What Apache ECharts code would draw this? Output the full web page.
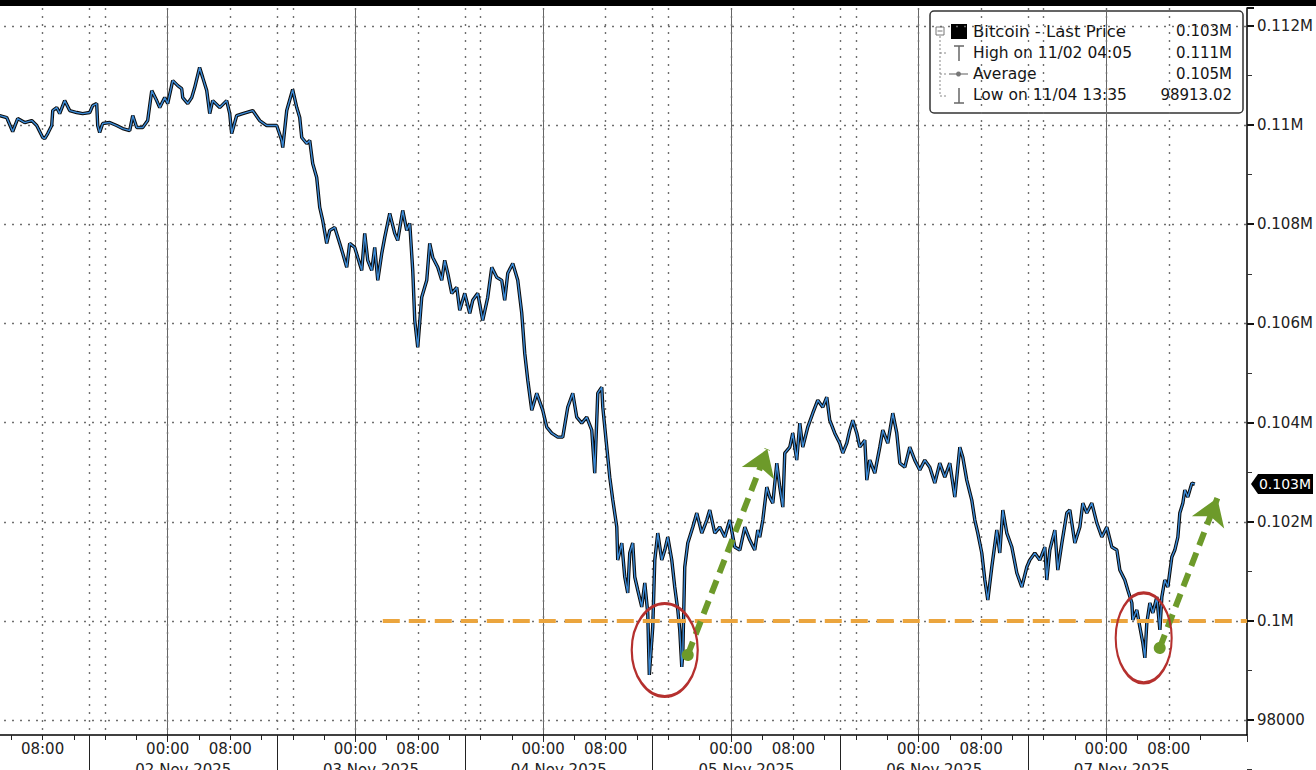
<!DOCTYPE html>
<html><head><meta charset="utf-8">
<script src="https://cdn.jsdelivr.net/npm/echarts@6/dist/echarts.min.js"></script>
<style>html,body{margin:0;padding:0;background:#fff;}#c{width:1316px;height:770px;}</style>
</head><body><div id="c"></div>
<script>
// ---- data (hours relative to 00:00 02 Nov 2025, price in USD) ----
const hours = [-21.48,-20.59,-19.82,-19.18,-18.28,-17.39,-16.75,-15.98,-15.73,-15.34,-14.83,-14.70,-14.19,-13.81,-13.17,-12.53,-11.63,-10.87,-9.97,-9.59,-9.08,-8.95,-8.70,-8.31,-7.42,-6.52,-5.75,-4.86,-4.47,-3.96,-3.20,-2.56,-2.04,-1.41,-1.02,-0.38,0.00,0.64,1.28,1.79,1.92,2.56,3.07,3.45,4.08,4.48,4.99,5.37,5.75,6.65,7.54,7.93,8.18,8.82,9.59,10.87,11.76,12.66,13.94,14.58,14.71,15.22,15.98,16.50,16.88,17.14,17.77,18.16,18.54,19.05,19.44,19.82,20.33,20.72,21.36,22.00,22.38,22.89,23.27,23.91,24.30,24.81,25.19,25.58,26.09,26.47,26.86,27.37,27.75,28.39,29.03,29.41,30.05,30.56,30.95,31.33,31.59,31.97,32.48,33.12,33.50,33.89,34.53,35.04,35.42,35.81,36.32,36.96,37.34,37.98,38.62,39.00,39.64,40.28,40.92,41.43,42.07,42.71,43.09,43.48,44.12,44.76,45.27,45.65,46.04,46.55,47.19,47.95,48.47,49.10,49.87,50.51,51.15,51.79,52.30,52.94,53.58,54.22,54.60,54.99,55.50,55.63,56.14,56.52,56.91,57.42,57.54,58.06,58.44,58.82,59.08,59.46,59.72,60.10,60.61,61.00,61.38,61.58,62.02,62.28,62.66,63.17,63.56,63.94,64.45,64.83,65.22,65.47,65.73,65.86,66.11,66.50,67.14,67.65,68.29,68.93,69.31,69.95,70.59,71.23,71.87,72.51,73.15,73.79,74.43,75.06,75.45,75.70,76.09,76.60,76.98,77.37,77.88,78.26,78.65,78.90,79.54,79.92,80.43,80.82,81.20,81.84,82.48,83.12,83.76,84.27,84.65,85.29,85.93,86.32,86.83,87.21,87.60,88.11,88.49,89.13,89.39,89.77,90.41,91.05,91.43,92.07,92.71,93.22,93.61,94.25,94.88,95.52,96.16,96.80,97.44,98.08,98.72,99.36,100.00,100.64,101.28,101.66,102.17,102.81,103.20,103.58,104.09,104.48,104.86,105.37,106.01,106.39,106.78,107.29,107.93,108.57,109.21,109.85,110.23,110.87,111.51,112.15,112.40,112.79,113.43,113.81,114.33,114.96,115.35,115.99,116.63,117.01,117.52,118.16,118.80,119.44,120.08,120.72,121.36,121.74,122.38,122.76,123.28,123.40,123.91,124.30,124.68,124.94,125.19,125.58,125.96,126.47,126.86,127.11,127.49,127.88,128.39,128.77,129.16,129.41,129.80,130.05,130.43,130.95,131.33];
const prices = [110191,110151,109869,110131,110050,110090,109990,109748,109728,109828,109990,110292,110352,110231,110493,110292,110252,110231,110252,110393,110433,109990,109849,110030,110050,109990,109929,109889,110191,109949,109949,110090,110694,110493,110352,110553,110433,110896,110795,110735,110553,110433,110553,110755,111160,110956,110694,110231,110493,110352,110493,110231,109829,110191,110231,110292,110090,109990,109990,109687,109547,110292,110715,110352,110151,109748,109627,109687,109224,108942,108338,108076,107613,107875,107935,107613,107412,107130,107613,107532,107331,107069,107814,107271,107069,107532,106868,107412,107734,108217,107814,107674,108278,107875,108016,107069,106062,105519,106526,106868,107613,107331,107130,106868,107271,107009,106606,106727,106264,106606,106204,106465,106606,106062,106526,107130,106929,106868,106465,107009,107210,106868,106204,105398,104854,104250,104592,104250,103907,103786,103706,103706,104310,104592,104109,103988,104109,103847,102981,104592,104713,104310,103505,102900,102437,101893,101228,101571,100886,100564,101370,101571,100886,100624,100282,100765,100161,98913,99879,101228,101772,101228,101430,101692,101228,100685,100222,99819,99074,99356,101088,101571,101893,102175,101772,102034,102236,101772,101893,101692,102034,101490,101430,101893,101631,101430,101833,101691,102034,102699,102497,102376,103182,102699,102296,103384,103505,103786,103243,103988,103505,103907,104189,104451,104310,104512,104048,103786,103585,103384,103585,103847,104048,103786,103505,103646,102840,103243,102981,103505,103847,103585,104189,103786,103182,103101,103505,103243,103042,103243,103101,102780,103182,102900,103182,102497,103505,103303,102840,102437,102034,101772,101370,100826,100423,101088,101833,101370,102236,101772,101490,100967,100685,101088,101228,101369,101228,101490,100826,101430,101833,101027,101571,102175,102236,101571,101893,102376,102175,102376,101974,101692,101893,101490,101430,101027,100826,100624,100363,100020,100222,99879,99557,99255,99960,100363,100161,100483,99819,100483,100826,100685,101289,101430,101692,102175,102376,102638,102497,102779,102760];
const timeTickLabels = {0: '00:00', 8: '08:00'};
const dateLabels = ['02 Nov 2025','03 Nov 2025','04 Nov 2025','05 Nov 2025','06 Nov 2025','07 Nov 2025'];
const legendLabels = ['Bitcoin - Last Price','High on 11/02 04:05','Average','Low on 11/04 13:35'];
const legendValues = ['0.103M','0.111M','0.105M','98913.02'];
const supportLevel = 100000;
const supportStartHour = 27.5;
const lowCircles = [[63.55, 99415], [124.79, 99657]];
const reboundArrows = [[[66.49, 99314], [76.67, 103465]], [[126.84, 99455], [134.21, 102477]]];

// ---- layout ----
const FONT = '"DejaVu Sans", Verdana, sans-serif';
const T_MIN = -24, T_MAX = 138;
const Y_MIN = 97700, Y_MAX = 112360, Y_LABEL_MIN = 96000;
const G_LEFT = -20, G_TOP = 8, G_BOTTOM = 35, G_WIDTH = 1267, H = 770;
const PX = G_WIDTH / (T_MAX - T_MIN);
const PLOT_H = H - G_TOP - G_BOTTOM;
const PY = PLOT_H / (Y_MAX - Y_MIN);
function gridAt(startT, span, height) {
  const h = height || PLOT_H;
  return {left: G_LEFT + (startT - T_MIN) * PX, width: span * PX, top: G_TOP, height: h,
          outerBoundsMode: 'none', containLabel: false};
}
function fmtM(v) {
  if (v >= 100000) return String(+(v / 1e6).toFixed(3)) + 'M';
  return String(v);
}
const dotted = {type: [2, 6], color: '#6f6f6f', width: 1.4};
const hiddenY = (g) => ({gridIndex: g, show: false, min: 0, max: 1, axisLine: {onZero: false}});

const series = hours.map((t, i) => [t, prices[i]]);
const last = prices[prices.length - 1];
const ellipsePath = 'path://M0,-50A50,50,0,1,1,0,50A50,50,0,1,1,0,-50Z';
const ellipseSizes = [[66, 93], [56, 90]];

const chart = echarts.init(document.getElementById('c'), null, {renderer: 'svg', width: 1316, height: 770});
const option = {
  animation: false,
  backgroundColor: '#ffffff',
  textStyle: {fontFamily: FONT},
  grid: [
    gridAt(-24, 162),                                   // 0 data
    gridAt(-24, 162, (Y_MAX - Y_LABEL_MIN) * PY),       // 1 y labels / h-grid
    gridAt(-24, 156),                                   // 2 time labels / 8h lines
    gridAt(-10, 120),                                   // 3 separators
    gridAt(-22, 144)                                    // 4 date labels
  ],
  xAxis: [
    {gridIndex: 0, type: 'value', position: 'bottom', min: T_MIN, max: T_MAX, interval: 24,
     axisLine: {show: true, onZero: false, lineStyle: {color: '#000', width: 1.5}},
     axisTick: {show: true, length: 7, lineStyle: {color: '#333'}},
     axisLabel: {show: false},
     splitLine: {show: true, showMaxLine: false, lineStyle: {color: '#666', width: 1}}},
    {gridIndex: 1, type: 'value', min: T_MIN, max: T_MAX, show: false, axisLine: {onZero: false}},
    {gridIndex: 2, type: 'value', position: 'bottom', min: -24, max: 132, interval: 4,
     axisLine: {show: false, onZero: false},
     axisTick: {show: true, length: 5, lineStyle: {color: '#222'}},
     axisLabel: {show: true, margin: 6, fontSize: 15, color: '#222', fontFamily: FONT,
       showMinLabel: false, showMaxLabel: true,
       formatter: v => { if (v <= -24) return ''; const h = ((v % 24) + 24) % 24; return timeTickLabels[h] || ''; }},
     splitLine: {show: false}},
    {gridIndex: 2, type: 'value', position: 'bottom', min: -24, max: 132, interval: 8,
     axisLine: {show: false, onZero: false}, axisTick: {show: false}, axisLabel: {show: false},
     splitLine: {show: true, showMaxLine: false, lineStyle: dotted}},
    {gridIndex: 3, type: 'value', position: 'bottom', min: -24, max: 96, interval: 24,
     axisLine: {show: false, onZero: false},
     axisTick: {show: true, length: 36, lineStyle: {color: '#222', width: 1}},
     axisLabel: {show: false},
     splitLine: {show: true, lineStyle: dotted}},
    {gridIndex: 4, type: 'value', position: 'bottom', min: -24, max: 120, interval: 24,
     axisLine: {show: false, onZero: false}, axisTick: {show: false}, splitLine: {show: false},
     axisLabel: {show: true, margin: 27, fontSize: 15, color: '#222', fontFamily: FONT,
       showMinLabel: true, showMaxLabel: true,
       formatter: v => (v < 0 ? '' : (dateLabels[Math.round(v / 24)] || ''))}}
  ],
  yAxis: [
    {gridIndex: 0, type: 'value', position: 'right', min: Y_MIN, max: Y_MAX,
     axisLine: {show: true, onZero: false, lineStyle: {color: '#000', width: 1.5}},
     axisTick: {show: false}, axisLabel: {show: false}, splitLine: {show: false}},
    {gridIndex: 1, type: 'value', position: 'right', min: Y_LABEL_MIN, max: Y_MAX, interval: 2000,
     axisLine: {show: false, onZero: false},
     axisTick: {show: true, length: 7, lineStyle: {color: '#111', width: 2}},
     minorTick: {show: true, splitNumber: 2, length: 5, lineStyle: {color: '#333', width: 1}},
     axisLabel: {show: true, margin: 10, fontSize: 15, color: '#222', fontFamily: FONT,
       formatter: v => (v % 2000 === 0 ? fmtM(v) : '')},
     splitLine: {show: true, showMaxLine: false, lineStyle: dotted}},
    hiddenY(2), hiddenY(3), hiddenY(4)
  ],
  series: [
    {name: 'Bitcoin - Last Price', type: 'line', xAxisIndex: 0, yAxisIndex: 0, data: series,
     showSymbol: false, symbol: 'none', z: 3, lineStyle: {color: '#0a0a0a', width: 3.4}},
    {name: 'Bitcoin overlay', type: 'line', xAxisIndex: 0, yAxisIndex: 0, data: series,
     showSymbol: false, symbol: 'none', z: 4, lineStyle: {color: '#3b8ad6', width: 1.4}},
    {name: 'annotations', type: 'line', xAxisIndex: 0, yAxisIndex: 0, data: [], clip: false, z: 6,
     markLine: {silent: true, animation: false, label: {show: false}, symbol: ['none', 'none'],
       data: [
         [{coord: [supportStartHour, supportLevel], lineStyle: {color: '#eba53e', width: 4, type: [17, 9]}},
          {coord: [T_MAX, supportLevel]}]
       ].concat(reboundArrows.map(a => [
         {coord: a[0], symbol: 'circle', symbolSize: 12, lineStyle: {color: '#6d9a2a', width: 6, type: [14, 8]}, itemStyle: {color: '#6d9a2a'}},
         {coord: a[1], symbol: 'arrow', symbolSize: 26, itemStyle: {color: '#6d9a2a'}}
       ]))},
     markPoint: {silent: true, animation: false,
       data: lowCircles.map((c, i) => ({coord: c, symbol: ellipsePath, symbolSize: ellipseSizes[i],
         itemStyle: {color: 'rgba(0,0,0,0)', borderColor: '#b5302e', borderWidth: 2.6}, label: {show: false}}))
       .concat([{coord: [T_MAX, last], symbol: 'path://M0,10L7,0L62,0L62,20L7,20Z', symbolSize: [62, 20], symbolOffset: [35, 0],
         itemStyle: {color: '#000'}, label: {show: true, position: 'inside', formatter: fmtM(last), color: '#fff', fontSize: 14, fontFamily: FONT, offset: [3, 0]}}])}}
  ],
  graphic: [
    {type: 'rect', z: 100, shape: {x: 0, y: 0, width: 1316, height: 6}, style: {fill: '#000'}},
    {type: 'group', z: 100, children: [
      {type: 'rect', shape: {x: 930, y: 11, width: 313, height: 102, r: 4}, style: {fill: '#fff', stroke: '#333', lineWidth: 1.5}},
      {type: 'rect', shape: {x: 936, y: 27, width: 8, height: 8}, style: {fill: '#fff', stroke: '#777', lineWidth: 1}},
      {type: 'line', shape: {x1: 937.5, y1: 31, x2: 942.5, y2: 31}, style: {stroke: '#777', lineWidth: 1}},
      {type: 'line', shape: {x1: 940, y1: 36, x2: 940, y2: 96}, style: {stroke: '#888', lineWidth: 1, lineDash: [2, 2]}},
      {type: 'line', shape: {x1: 940, y1: 53, x2: 947, y2: 53}, style: {stroke: '#888', lineWidth: 1, lineDash: [2, 2]}},
      {type: 'line', shape: {x1: 940, y1: 74, x2: 947, y2: 74}, style: {stroke: '#888', lineWidth: 1, lineDash: [2, 2]}},
      {type: 'line', shape: {x1: 940, y1: 96, x2: 947, y2: 96}, style: {stroke: '#888', lineWidth: 1, lineDash: [2, 2]}},
      {type: 'rect', shape: {x: 951, y: 24, width: 16, height: 15}, style: {fill: '#000'}},
      {type: 'line', shape: {x1: 954, y1: 46, x2: 964, y2: 46}, style: {stroke: '#666', lineWidth: 1.5}},
      {type: 'line', shape: {x1: 959, y1: 46, x2: 959, y2: 61}, style: {stroke: '#666', lineWidth: 1.5}},
      {type: 'line', shape: {x1: 949, y1: 74, x2: 968, y2: 74}, style: {stroke: '#777', lineWidth: 1.2}},
      {type: 'circle', shape: {cx: 958.5, cy: 74, r: 2.5}, style: {fill: '#777'}},
      {type: 'line', shape: {x1: 959, y1: 88, x2: 959, y2: 103}, style: {stroke: '#666', lineWidth: 1.5}},
      {type: 'line', shape: {x1: 954, y1: 103, x2: 964, y2: 103}, style: {stroke: '#666', lineWidth: 1.5}}
    ].concat(legendLabels.map((s, i) => ({type: 'text', style: {text: s, x: 973, y: [31, 53, 74, 95][i], fill: '#151515', fontSize: i === 0 ? 16.5 : 15.5, fontFamily: FONT, verticalAlign: 'middle', align: 'left'}})))
     .concat(legendValues.map((s, i) => ({type: 'text', style: {text: s, x: 1232, y: [31, 53, 74, 95][i], fill: '#151515', fontSize: 15, fontFamily: FONT, verticalAlign: 'middle', align: 'right'}})))}
  ]
};
chart.setOption(option);
</script>
</body></html>
